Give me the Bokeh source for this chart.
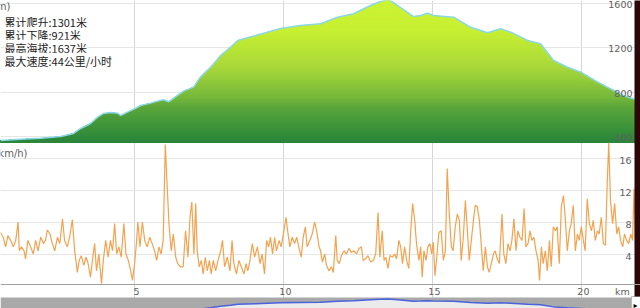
import numpy as np
from bokeh.plotting import figure
from bokeh.models import Range1d, Label, FixedTicker, Grid, BoxAnnotation, Span
from bokeh.embed import file_html
from bokeh.resources import INLINE

# ---------------- data ----------------
elev_km = [0.49, 1.16, 1.84, 2.51, 2.94, 3.18, 3.51, 3.75, 3.95, 4.18, 4.42, 4.52, 4.75, 4.99,
           5.19, 5.53, 5.76, 5.96, 6.13, 6.43, 6.63, 6.97, 7.20, 7.54, 7.88, 8.21, 8.45, 9.05,
           9.89, 10.56, 11.23, 11.80, 12.34, 12.91, 13.24, 13.51, 13.82, 14.35, 14.59, 14.82,
           15.02, 15.69, 16.26, 16.84, 17.27, 17.61, 18.18, 18.61, 19.05, 19.52, 19.96, 20.53,
           20.96, 21.40, 21.80, 21.85]
elev_m = [369, 380, 389, 404, 431, 476, 521, 578, 611, 620, 614, 593, 623, 653,
          683, 704, 722, 734, 716, 773, 812, 848, 938, 1027, 1133, 1207, 1268, 1312,
          1375, 1402, 1418, 1477, 1508, 1582, 1618, 1637, 1582, 1483, 1492, 1513,
          1492, 1477, 1387, 1337, 1373, 1342, 1268, 1238, 1088, 1027, 983, 893,
          833, 773, 737, 733]

speed_km = [0.49,0.58,0.66,0.74,0.83,0.92,1.00,1.08,1.12,1.19,
            1.28,1.33,1.41,1.50,1.59,1.67,1.75,1.84,1.93,2.00,
            2.06,2.15,2.23,2.31,2.40,2.48,2.57,2.64,2.73,2.81,
            2.90,2.98,3.07,3.13,3.20,3.29,3.36,3.42,3.51,3.58,
            3.65,3.71,3.79,3.88,3.94,4.02,4.10,4.18,4.25,4.32,
            4.39,4.46,4.54,4.63,4.70,4.78,4.86,4.92,4.99,5.05,
            5.10,5.17,5.25,5.33,5.41,5.50,5.58,5.66,5.73,5.81,
            5.88,5.95,6.02,6.09,6.15,6.22,6.29,6.37,6.44,6.53,
            6.62,6.70,6.78,6.85,6.91,6.98,7.04,7.09,7.16,7.23,
            7.29,7.36,7.43,7.50,7.56,7.63,7.71,7.79,7.88,7.94,
            8.01,8.10,8.19,8.26,8.32,8.41,8.49,8.57,8.66,8.73,
            8.79,8.86,8.94,9.02,9.11,9.20,9.27,9.35,9.42,9.49,
            9.55,9.62,9.69,9.75,9.84,9.91,10.00,10.07,10.14,10.20,
            10.28,10.36,10.43,10.50,10.58,10.65,10.72,10.78,10.87,10.95,
            11.03,11.10,11.18,
            11.23,11.29,11.37,11.43,11.51,11.59,11.66,11.74,11.79,11.86,
            11.93,12.02,12.10,12.18,12.26,12.35,12.44,12.52,12.60,12.66,
            12.74,12.82,12.91,13.00,13.08,13.16,13.22,13.30,13.36,13.42,
            13.49,13.56,13.64,13.72,13.78,13.86,13.92,13.98,14.05,14.12,
            14.19,14.25,14.32,14.39,14.45,14.53,14.59,14.64,14.70,14.77,
            14.83,14.90,14.96,15.01,15.07,15.13,15.20,15.28,15.35,15.42,
            15.48,15.55,15.62,15.68,15.75,15.82,15.89,15.95,16.02,16.09,
            16.15,16.22,16.29,16.36,16.42,16.49,16.56,16.62,16.69,16.76,
            16.83,16.89,16.96,17.03,17.09,17.16,17.23,17.32,17.38,17.45,
            17.52,17.59,17.65,17.72,17.79,17.85,17.92,17.99,18.06,18.12,
            18.19,18.26,18.32,18.39,18.46,18.53,18.58,18.64,18.70,18.77,
            18.84,18.91,18.97,19.04,19.11,19.17,19.24,19.31,19.38,19.44,
            19.51,19.58,19.64,19.71,19.78,19.85,19.91,19.98,20.05,20.11,
            20.18,20.25,20.32,20.38,20.45,20.52,20.58,20.65,20.72,20.79,
            20.85,20.90,20.96,21.03,21.10,21.17,21.23,21.30,21.37,21.43,
            21.50,21.57,21.64,21.70,21.75,21.80]
speed_kmh = [6.8,6.2,5.0,6.4,5.8,5.0,5.8,8.1,4.5,5.0,
             4.5,3.5,5.8,5.0,4.1,5.8,4.5,6.2,5.4,5.8,
             7.1,6.6,5.4,4.5,6.2,5.4,8.5,5.8,5.0,6.2,
             8.4,4.5,1.8,3.3,3.9,2.7,3.7,3.1,1.2,3.5,
             5.4,2.0,4.1,0.4,3.3,5.8,3.7,5.8,4.5,7.9,
             4.1,5.0,3.7,7.9,4.1,3.3,2.0,0.8,2.9,5.4,
             8.1,5.0,8.1,5.8,5.0,6.2,5.4,4.5,3.3,5.0,
             4.1,5.8,17.8,12.0,7.5,4.5,6.6,3.7,2.9,2.5,
             2.5,7.0,3.7,8.7,10.6,4.1,10.4,4.5,2.5,3.3,
             1.6,3.7,2.0,3.3,1.6,3.3,2.0,3.3,4.5,5.8,
             2.5,3.7,2.0,5.8,2.9,1.6,3.3,2.5,1.6,2.9,
             2.0,3.3,5.4,3.7,5.0,2.9,4.1,1.6,5.8,5.0,
             6.2,4.1,6.2,4.5,5.8,5.0,7.0,8.7,6.6,5.0,
             6.2,5.4,6.2,5.0,3.7,6.2,7.5,5.0,5.8,6.6,
             8.1,7.0,5.0,
             4.5,3.1,4.1,2.7,2.0,2.5,1.8,6.4,3.3,2.9,
             3.9,4.5,4.1,4.8,4.3,4.5,4.1,4.8,5.0,3.3,
             3.5,3.9,3.1,3.3,4.1,9.3,3.7,7.0,3.3,3.7,
             2.3,3.9,3.7,4.1,3.5,5.8,5.0,2.9,5.0,3.3,
             2.3,6.6,10.4,8.3,5.4,3.3,5.0,1.2,4.5,3.3,
             5.0,5.4,4.1,5.6,1.4,3.7,6.8,7.0,3.3,4.5,
             14.8,9.1,5.0,4.5,7.5,9.1,8.3,3.3,6.2,10.8,
             7.5,3.3,5.8,8.3,10.2,10.0,8.3,5.4,2.0,5.0,
             2.5,1.8,2.9,4.1,4.5,3.5,2.9,9.1,4.1,2.9,
             5.4,4.5,5.8,8.5,4.5,7.0,6.2,5.8,9.8,5.0,
             5.4,7.0,5.8,6.2,4.5,3.3,0.8,5.0,2.9,4.5,
             2.0,5.8,2.5,7.5,7.0,7.5,2.9,10.0,11.4,8.7,
             4.5,7.0,7.9,10.2,4.5,6.6,5.8,7.5,5.8,4.5,
             11.0,7.9,7.0,8.3,5.8,7.0,6.6,8.7,5.4,5.2,
             12.9,18.0,10.8,7.9,10.4,6.6,7.5,5.8,5.0,6.6,
             5.8,5.4,6.6,5.8,12.3,4.5]

elev_ticks = [400, 800, 1200, 1600]
speed_ticks = [4, 8, 12, 16]
dist_ticks = [5, 10, 15, 20]
stats = ["累计爬升:1301米", "累计下降:921米", "最高海拔:1637米", "最大速度:44公里/小时"]
elev_title = "海拔(m)"
speed_title = "速度(km/h)"
dist_unit = "km"

# ---------------- layout constants (pixels) ----------------
W, H = 640, 308
PX_PER_KM = 29.8
X0 = 0.49
X1 = X0 + W / PX_PER_KM
GRID_H = "#e6e6e6"
GRID_V = "#d6d6d6"
TICK_FONT = "DejaVu Sans"
TICK_COLOR = "#606060"
FS = "9.5px"

# default y range is the page's pixel rows (0 = bottom), used for chrome only
p = figure(width=W, height=H, x_range=Range1d(X0, X1), y_range=Range1d(0, H),
           output_backend="svg", toolbar_location=None, min_border=0,
           x_axis_location=None, y_axis_location=None,
           outline_line_color=None, background_fill_color="white",
           border_fill_color="white")
p.center = [r for r in p.center if not isinstance(r, Grid)]

e_per_px = (1627 - 350) / 142.0
s_per_px = (18.04 - 0.29) / 142.0
n_per_px = (1742 - 975) / 11.0
p.extra_y_ranges = {
    "elev": Range1d(1627 - H * e_per_px, 1627),
    "speed": Range1d(0.29 - (H - 284) * s_per_px, 18.04 + 142 * s_per_px),
    "nav": Range1d(975, 975 + H * n_per_px),
}

# ---------------- grids ----------------
p.add_layout(Grid(dimension=0, ticker=FixedTicker(ticks=dist_ticks), grid_line_color=GRID_V,
                  y_range_name="speed", bounds=(0.29, 40)))
p.add_layout(Grid(dimension=1, ticker=FixedTicker(ticks=elev_ticks), grid_line_color=GRID_H,
                  y_range_name="elev"))
p.add_layout(Grid(dimension=1, ticker=FixedTicker(ticks=speed_ticks), grid_line_color=GRID_H,
                  y_range_name="speed"))

# ---------------- elevation area (vertical gradient as stacked bands) ----------------
g_e = [350, 395, 665, 755, 1024, 1357, 1660]
g_r = [43, 46, 90, 118, 168, 200, 204]
g_g = [133, 138, 166, 184, 216, 240, 245]
g_b = [58, 58, 58, 58, 58, 50, 50]


def grad(e):
    return "#%02x%02x%02x" % (int(np.interp(e, g_e, g_r)), int(np.interp(e, g_e, g_g)),
                              int(np.interp(e, g_e, g_b)))


ek = np.array(elev_km)
em = np.array(elev_m, dtype=float)
step = 16
levels = np.arange(350, 1660, step)
for lo in levels[::-1]:
    hi = lo + step
    p.varea(x=ek, y1=350, y2=np.clip(em, 350, hi), fill_color=grad(lo + step / 2),
            y_range_name="elev")
p.line(ek, em, line_color="#8ad8e6", line_width=1.5, y_range_name="elev")

for t in elev_ticks:
    p.add_layout(Label(x=632, x_units="screen", y=t, y_units="data", y_range_name="elev",
                       text=str(t), text_align="right", text_baseline="middle", y_offset=-1,
                       text_font=TICK_FONT, text_font_size=FS, text_color=TICK_COLOR))

p.add_layout(Label(x=10, x_units="screen", y=H, y_units="screen", text=elev_title,
                   text_align="right", text_baseline="top",
                   text_font=TICK_FONT, text_font_size="10px", text_color=TICK_COLOR))

for i, s in enumerate(stats):
    p.add_layout(Label(x=4, x_units="screen", y=H - 21.5 - 12.9 * i, y_units="screen",
                       text=s, text_align="left", text_baseline="middle",
                       text_font="Noto Sans CJK SC", text_font_size="11px",
                       text_color="#222222", background_fill_color="white"))

# ---------------- speed ----------------
p.line(speed_km, speed_kmh, line_color="#f5a24e", line_width=1.2, y_range_name="speed")

for t in speed_ticks:
    p.add_layout(Label(x=631, x_units="screen", y=t, y_units="data", y_range_name="speed",
                       text=str(t), text_align="right", text_baseline="middle", y_offset=-2,
                       text_font=TICK_FONT, text_font_size=FS, text_color=TICK_COLOR))

p.add_layout(Label(x=27, x_units="screen", y=H - 153, y_units="screen", text=speed_title,
                   text_align="right", text_baseline="middle",
                   text_font=TICK_FONT, text_font_size="10px", text_color=TICK_COLOR))

# distance axis
p.add_layout(Span(location=0.29, dimension="width", y_range_name="speed",
                  line_color="#a0a0a0", line_width=1))
for t in dist_ticks:
    p.add_layout(Label(x=t, x_units="data", y=H - 291, y_units="screen", text=str(t),
                       text_align="center", text_baseline="middle", x_offset=1.5,
                       text_font=TICK_FONT, text_font_size=FS, text_color=TICK_COLOR))
p.add_layout(Label(x=622, x_units="screen", y=H - 291, y_units="screen", text=dist_unit,
                   text_align="center", text_baseline="middle",
                   text_font=TICK_FONT, text_font_size=FS, text_color=TICK_COLOR))

# ---------------- navigator ----------------
p.add_layout(BoxAnnotation(left=0, left_units="screen", right=W, right_units="screen",
                           bottom=0, bottom_units="screen", top=11, top_units="screen",
                           fill_color="#a9a9a9", fill_alpha=1.0,
                           line_color=None, level="underlay"))
p.varea(x=ek, y1=0, y2=em, fill_color="#ebebeb", y_range_name="nav")
p.line(ek, em, line_color="#4a62dc", line_width=1.5, y_range_name="nav")

# scrollbar button and right dark edge (page chrome, in pixel rows)
kmpx = 1.0 / PX_PER_KM
p.quad(left=[X1 - 9 * kmpx], right=[X1 + kmpx], bottom=[-1], top=[12],
       fill_color="white", line_color="#bbbbbb", line_width=1)
p.add_layout(Label(x=633, x_units="screen", y=-1, y_units="screen", text="▸",
                   text_font=TICK_FONT, text_font_size="8px", text_color="#000000"))
p.quad(left=[X1 - 6 * kmpx], right=[X1 + kmpx], bottom=[12], top=[H + 1],
       fill_color="#2b0707", line_color=None)

open("out.html", "w").write(file_html(p, INLINE))
